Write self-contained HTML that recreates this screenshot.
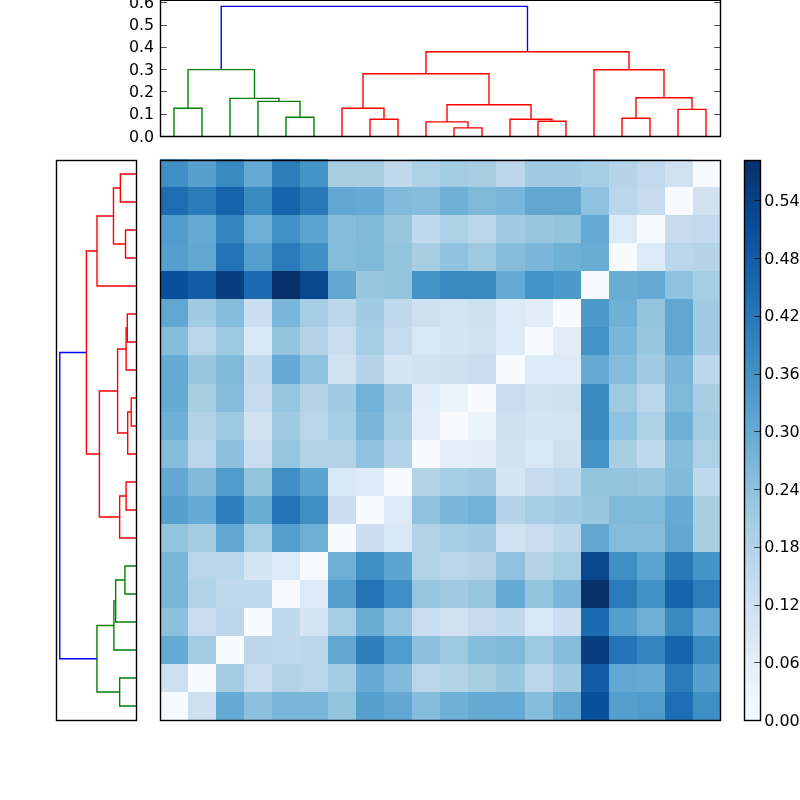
<!DOCTYPE html>
<html lang="en"><head><meta charset="utf-8"><title>Clustered distance matrix</title>
<style>html,body{margin:0;padding:0;background:#fff}body{width:800px;height:800px;overflow:hidden}svg{display:block}text{font-family:"DejaVu Sans","Liberation Sans",sans-serif;font-size:16.67px;fill:#000}</style>
</head><body>
<svg width="800" height="800" viewBox="0 0 800 800">
<rect x="0" y="0" width="800" height="800" fill="#fff"/>
<g shape-rendering="crispEdges">
<rect x="160" y="692" width="28" height="28" fill="#f7fbff"/>
<rect x="188" y="692" width="28" height="28" fill="#cde0f1"/>
<rect x="216" y="692" width="28" height="28" fill="#65aad4"/>
<rect x="244" y="692" width="28" height="28" fill="#8cc0dd"/>
<rect x="272" y="692" width="28" height="28" fill="#7ab6d9"/>
<rect x="300" y="692" width="28" height="28" fill="#7ab6d9"/>
<rect x="328" y="692" width="28" height="28" fill="#92c4de"/>
<rect x="356" y="692" width="28" height="28" fill="#57a0ce"/>
<rect x="384" y="692" width="28" height="28" fill="#63a8d3"/>
<rect x="412" y="692" width="28" height="28" fill="#87bddc"/>
<rect x="440" y="692" width="28" height="28" fill="#6fb0d7"/>
<rect x="468" y="692" width="28" height="28" fill="#66abd4"/>
<rect x="496" y="692" width="29" height="28" fill="#65aad4"/>
<rect x="525" y="692" width="28" height="28" fill="#87bddc"/>
<rect x="553" y="692" width="28" height="28" fill="#61a7d2"/>
<rect x="581" y="692" width="28" height="28" fill="#08509b"/>
<rect x="609" y="692" width="28" height="28" fill="#549fcd"/>
<rect x="637" y="692" width="28" height="28" fill="#4f9bcb"/>
<rect x="665" y="692" width="28" height="28" fill="#1e6db2"/>
<rect x="693" y="692" width="28" height="28" fill="#3f8fc5"/>
<rect x="160" y="664" width="28" height="28" fill="#cde0f1"/>
<rect x="188" y="664" width="28" height="28" fill="#f7fbff"/>
<rect x="216" y="664" width="28" height="28" fill="#a3cce3"/>
<rect x="244" y="664" width="28" height="28" fill="#c8dcf0"/>
<rect x="272" y="664" width="28" height="28" fill="#b2d2e8"/>
<rect x="300" y="664" width="28" height="28" fill="#b8d5ea"/>
<rect x="328" y="664" width="28" height="28" fill="#a3cce3"/>
<rect x="356" y="664" width="28" height="28" fill="#65aad4"/>
<rect x="384" y="664" width="28" height="28" fill="#81badb"/>
<rect x="412" y="664" width="28" height="28" fill="#b8d5ea"/>
<rect x="440" y="664" width="28" height="28" fill="#b2d2e8"/>
<rect x="468" y="664" width="28" height="28" fill="#a8cee4"/>
<rect x="496" y="664" width="29" height="28" fill="#99c7e0"/>
<rect x="525" y="664" width="28" height="28" fill="#bad6eb"/>
<rect x="553" y="664" width="28" height="28" fill="#a0cbe2"/>
<rect x="581" y="664" width="28" height="28" fill="#125da6"/>
<rect x="609" y="664" width="28" height="28" fill="#63a8d3"/>
<rect x="637" y="664" width="28" height="28" fill="#65aad4"/>
<rect x="665" y="664" width="28" height="28" fill="#2b7bba"/>
<rect x="693" y="664" width="28" height="28" fill="#57a0ce"/>
<rect x="160" y="636" width="28" height="28" fill="#65aad4"/>
<rect x="188" y="636" width="28" height="28" fill="#a3cce3"/>
<rect x="216" y="636" width="28" height="28" fill="#f7fbff"/>
<rect x="244" y="636" width="28" height="28" fill="#bcd7eb"/>
<rect x="272" y="636" width="28" height="28" fill="#c1d9ed"/>
<rect x="300" y="636" width="28" height="28" fill="#bad6eb"/>
<rect x="328" y="636" width="28" height="28" fill="#61a7d2"/>
<rect x="356" y="636" width="28" height="28" fill="#2f7fbc"/>
<rect x="384" y="636" width="28" height="28" fill="#4f9bcb"/>
<rect x="412" y="636" width="28" height="28" fill="#8cc0dd"/>
<rect x="440" y="636" width="28" height="28" fill="#9dcae1"/>
<rect x="468" y="636" width="28" height="28" fill="#87bddc"/>
<rect x="496" y="636" width="29" height="28" fill="#7fb9da"/>
<rect x="525" y="636" width="28" height="28" fill="#9dcae1"/>
<rect x="553" y="636" width="28" height="28" fill="#84bcdb"/>
<rect x="581" y="636" width="28" height="28" fill="#083d7f"/>
<rect x="609" y="636" width="28" height="28" fill="#2373b6"/>
<rect x="637" y="636" width="28" height="28" fill="#3484bf"/>
<rect x="665" y="636" width="28" height="28" fill="#1764ab"/>
<rect x="693" y="636" width="28" height="28" fill="#3a8ac2"/>
<rect x="160" y="608" width="28" height="28" fill="#8cc0dd"/>
<rect x="188" y="608" width="28" height="28" fill="#c8dcf0"/>
<rect x="216" y="608" width="28" height="28" fill="#bcd7eb"/>
<rect x="244" y="608" width="28" height="28" fill="#f7fbff"/>
<rect x="272" y="608" width="28" height="28" fill="#c1d9ed"/>
<rect x="300" y="608" width="28" height="28" fill="#d5e5f4"/>
<rect x="328" y="608" width="28" height="28" fill="#a5cde3"/>
<rect x="356" y="608" width="28" height="28" fill="#69add5"/>
<rect x="384" y="608" width="28" height="28" fill="#92c4de"/>
<rect x="412" y="608" width="28" height="28" fill="#c8dcf0"/>
<rect x="440" y="608" width="28" height="28" fill="#d0e1f2"/>
<rect x="468" y="608" width="28" height="28" fill="#c7dbef"/>
<rect x="496" y="608" width="29" height="28" fill="#c1d9ed"/>
<rect x="525" y="608" width="28" height="28" fill="#d8e7f5"/>
<rect x="553" y="608" width="28" height="28" fill="#cbdef1"/>
<rect x="581" y="608" width="28" height="28" fill="#1c6ab0"/>
<rect x="609" y="608" width="28" height="28" fill="#549fcd"/>
<rect x="637" y="608" width="28" height="28" fill="#6caed6"/>
<rect x="665" y="608" width="28" height="28" fill="#3a8ac2"/>
<rect x="693" y="608" width="28" height="28" fill="#65aad4"/>
<rect x="160" y="580" width="28" height="28" fill="#7ab6d9"/>
<rect x="188" y="580" width="28" height="28" fill="#b2d2e8"/>
<rect x="216" y="580" width="28" height="28" fill="#c1d9ed"/>
<rect x="244" y="580" width="28" height="28" fill="#c1d9ed"/>
<rect x="272" y="580" width="28" height="28" fill="#f7fbff"/>
<rect x="300" y="580" width="28" height="28" fill="#ddeaf7"/>
<rect x="328" y="580" width="28" height="28" fill="#549fcd"/>
<rect x="356" y="580" width="28" height="28" fill="#2373b6"/>
<rect x="384" y="580" width="28" height="28" fill="#3f8fc5"/>
<rect x="412" y="580" width="28" height="28" fill="#95c5df"/>
<rect x="440" y="580" width="28" height="28" fill="#9fcae1"/>
<rect x="468" y="580" width="28" height="28" fill="#95c5df"/>
<rect x="496" y="580" width="29" height="28" fill="#65aad4"/>
<rect x="525" y="580" width="28" height="28" fill="#92c4de"/>
<rect x="553" y="580" width="28" height="28" fill="#7ab6d9"/>
<rect x="581" y="580" width="28" height="28" fill="#08306b"/>
<rect x="609" y="580" width="28" height="28" fill="#2b7bba"/>
<rect x="637" y="580" width="28" height="28" fill="#4191c6"/>
<rect x="665" y="580" width="28" height="28" fill="#1764ab"/>
<rect x="693" y="580" width="28" height="28" fill="#2d7dbb"/>
<rect x="160" y="552" width="28" height="28" fill="#7ab6d9"/>
<rect x="188" y="552" width="28" height="28" fill="#b8d5ea"/>
<rect x="216" y="552" width="28" height="28" fill="#bad6eb"/>
<rect x="244" y="552" width="28" height="28" fill="#d5e5f4"/>
<rect x="272" y="552" width="28" height="28" fill="#ddeaf7"/>
<rect x="300" y="552" width="28" height="28" fill="#f7fbff"/>
<rect x="328" y="552" width="28" height="28" fill="#6dafd7"/>
<rect x="356" y="552" width="28" height="28" fill="#3f8fc5"/>
<rect x="384" y="552" width="28" height="28" fill="#5da5d1"/>
<rect x="412" y="552" width="28" height="28" fill="#b2d2e8"/>
<rect x="440" y="552" width="28" height="28" fill="#b8d5ea"/>
<rect x="468" y="552" width="28" height="28" fill="#b4d3e9"/>
<rect x="496" y="552" width="29" height="28" fill="#8fc2de"/>
<rect x="525" y="552" width="28" height="28" fill="#b4d3e9"/>
<rect x="553" y="552" width="28" height="28" fill="#a5cde3"/>
<rect x="581" y="552" width="28" height="28" fill="#08478d"/>
<rect x="609" y="552" width="28" height="28" fill="#3f8fc5"/>
<rect x="637" y="552" width="28" height="28" fill="#5ba3d0"/>
<rect x="665" y="552" width="28" height="28" fill="#2979b9"/>
<rect x="693" y="552" width="28" height="28" fill="#4695c8"/>
<rect x="160" y="524" width="28" height="28" fill="#92c4de"/>
<rect x="188" y="524" width="28" height="28" fill="#a3cce3"/>
<rect x="216" y="524" width="28" height="28" fill="#61a7d2"/>
<rect x="244" y="524" width="28" height="28" fill="#a5cde3"/>
<rect x="272" y="524" width="28" height="28" fill="#549fcd"/>
<rect x="300" y="524" width="28" height="28" fill="#6dafd7"/>
<rect x="328" y="524" width="28" height="28" fill="#f7fbff"/>
<rect x="356" y="524" width="28" height="28" fill="#cbdef1"/>
<rect x="384" y="524" width="28" height="28" fill="#d9e8f5"/>
<rect x="412" y="524" width="28" height="28" fill="#b2d2e8"/>
<rect x="440" y="524" width="28" height="28" fill="#a5cde3"/>
<rect x="468" y="524" width="28" height="28" fill="#9fcae1"/>
<rect x="496" y="524" width="29" height="28" fill="#d0e1f2"/>
<rect x="525" y="524" width="28" height="28" fill="#c8dcf0"/>
<rect x="553" y="524" width="28" height="28" fill="#bcd7eb"/>
<rect x="581" y="524" width="28" height="28" fill="#63a8d3"/>
<rect x="609" y="524" width="28" height="28" fill="#84bcdb"/>
<rect x="637" y="524" width="28" height="28" fill="#87bddc"/>
<rect x="665" y="524" width="28" height="28" fill="#63a8d3"/>
<rect x="693" y="524" width="28" height="28" fill="#a8cee4"/>
<rect x="160" y="496" width="28" height="28" fill="#57a0ce"/>
<rect x="188" y="496" width="28" height="28" fill="#65aad4"/>
<rect x="216" y="496" width="28" height="28" fill="#2f7fbc"/>
<rect x="244" y="496" width="28" height="28" fill="#69add5"/>
<rect x="272" y="496" width="28" height="28" fill="#2373b6"/>
<rect x="300" y="496" width="28" height="28" fill="#3f8fc5"/>
<rect x="328" y="496" width="28" height="28" fill="#cbdef1"/>
<rect x="356" y="496" width="28" height="28" fill="#f7fbff"/>
<rect x="384" y="496" width="28" height="28" fill="#ddeaf7"/>
<rect x="412" y="496" width="28" height="28" fill="#8fc2de"/>
<rect x="440" y="496" width="28" height="28" fill="#7ab6d9"/>
<rect x="468" y="496" width="28" height="28" fill="#71b1d7"/>
<rect x="496" y="496" width="29" height="28" fill="#b5d4e9"/>
<rect x="525" y="496" width="28" height="28" fill="#a5cde3"/>
<rect x="553" y="496" width="28" height="28" fill="#a1cbe2"/>
<rect x="581" y="496" width="28" height="28" fill="#99c7e0"/>
<rect x="609" y="496" width="28" height="28" fill="#7fb9da"/>
<rect x="637" y="496" width="28" height="28" fill="#7fb9da"/>
<rect x="665" y="496" width="28" height="28" fill="#65aad4"/>
<rect x="693" y="496" width="28" height="28" fill="#a8cee4"/>
<rect x="160" y="468" width="28" height="28" fill="#63a8d3"/>
<rect x="188" y="468" width="28" height="28" fill="#81badb"/>
<rect x="216" y="468" width="28" height="28" fill="#4f9bcb"/>
<rect x="244" y="468" width="28" height="28" fill="#92c4de"/>
<rect x="272" y="468" width="28" height="28" fill="#3f8fc5"/>
<rect x="300" y="468" width="28" height="28" fill="#5da5d1"/>
<rect x="328" y="468" width="28" height="28" fill="#d9e8f5"/>
<rect x="356" y="468" width="28" height="28" fill="#ddeaf7"/>
<rect x="384" y="468" width="28" height="28" fill="#f7fbff"/>
<rect x="412" y="468" width="28" height="28" fill="#b2d2e8"/>
<rect x="440" y="468" width="28" height="28" fill="#a5cde3"/>
<rect x="468" y="468" width="28" height="28" fill="#9fcae1"/>
<rect x="496" y="468" width="29" height="28" fill="#d5e5f4"/>
<rect x="525" y="468" width="28" height="28" fill="#c7dbef"/>
<rect x="553" y="468" width="28" height="28" fill="#c1d9ed"/>
<rect x="581" y="468" width="28" height="28" fill="#92c4de"/>
<rect x="609" y="468" width="28" height="28" fill="#92c4de"/>
<rect x="637" y="468" width="28" height="28" fill="#99c7e0"/>
<rect x="665" y="468" width="28" height="28" fill="#81badb"/>
<rect x="693" y="468" width="28" height="28" fill="#c1d9ed"/>
<rect x="160" y="440" width="28" height="28" fill="#87bddc"/>
<rect x="188" y="440" width="28" height="28" fill="#b8d5ea"/>
<rect x="216" y="440" width="28" height="28" fill="#8cc0dd"/>
<rect x="244" y="440" width="28" height="28" fill="#c8dcf0"/>
<rect x="272" y="440" width="28" height="28" fill="#95c5df"/>
<rect x="300" y="440" width="28" height="28" fill="#b2d2e8"/>
<rect x="328" y="440" width="28" height="28" fill="#b2d2e8"/>
<rect x="356" y="440" width="28" height="28" fill="#8fc2de"/>
<rect x="384" y="440" width="28" height="28" fill="#b2d2e8"/>
<rect x="412" y="440" width="28" height="28" fill="#f7fbff"/>
<rect x="440" y="440" width="28" height="28" fill="#e3eef8"/>
<rect x="468" y="440" width="28" height="28" fill="#e1edf8"/>
<rect x="496" y="440" width="29" height="28" fill="#d0e1f2"/>
<rect x="525" y="440" width="28" height="28" fill="#d8e7f5"/>
<rect x="553" y="440" width="28" height="28" fill="#cde0f1"/>
<rect x="581" y="440" width="28" height="28" fill="#4493c7"/>
<rect x="609" y="440" width="28" height="28" fill="#a8cee4"/>
<rect x="637" y="440" width="28" height="28" fill="#c1d9ed"/>
<rect x="665" y="440" width="28" height="28" fill="#87bddc"/>
<rect x="693" y="440" width="28" height="28" fill="#aed1e7"/>
<rect x="160" y="412" width="28" height="28" fill="#6fb0d7"/>
<rect x="188" y="412" width="28" height="28" fill="#b2d2e8"/>
<rect x="216" y="412" width="28" height="28" fill="#9dcae1"/>
<rect x="244" y="412" width="28" height="28" fill="#d0e1f2"/>
<rect x="272" y="412" width="28" height="28" fill="#9fcae1"/>
<rect x="300" y="412" width="28" height="28" fill="#b8d5ea"/>
<rect x="328" y="412" width="28" height="28" fill="#a5cde3"/>
<rect x="356" y="412" width="28" height="28" fill="#7ab6d9"/>
<rect x="384" y="412" width="28" height="28" fill="#a5cde3"/>
<rect x="412" y="412" width="28" height="28" fill="#e3eef8"/>
<rect x="440" y="412" width="28" height="28" fill="#f7fbff"/>
<rect x="468" y="412" width="28" height="28" fill="#ecf4fb"/>
<rect x="496" y="412" width="29" height="28" fill="#cde0f1"/>
<rect x="525" y="412" width="28" height="28" fill="#d3e4f3"/>
<rect x="553" y="412" width="28" height="28" fill="#d2e3f3"/>
<rect x="581" y="412" width="28" height="28" fill="#3a8ac2"/>
<rect x="609" y="412" width="28" height="28" fill="#8fc2de"/>
<rect x="637" y="412" width="28" height="28" fill="#aed1e7"/>
<rect x="665" y="412" width="28" height="28" fill="#6fb0d7"/>
<rect x="693" y="412" width="28" height="28" fill="#a3cce3"/>
<rect x="160" y="384" width="28" height="28" fill="#66abd4"/>
<rect x="188" y="384" width="28" height="28" fill="#a8cee4"/>
<rect x="216" y="384" width="28" height="28" fill="#87bddc"/>
<rect x="244" y="384" width="28" height="28" fill="#c7dbef"/>
<rect x="272" y="384" width="28" height="28" fill="#95c5df"/>
<rect x="300" y="384" width="28" height="28" fill="#b4d3e9"/>
<rect x="328" y="384" width="28" height="28" fill="#9fcae1"/>
<rect x="356" y="384" width="28" height="28" fill="#71b1d7"/>
<rect x="384" y="384" width="28" height="28" fill="#9fcae1"/>
<rect x="412" y="384" width="28" height="28" fill="#e1edf8"/>
<rect x="440" y="384" width="28" height="28" fill="#ecf4fb"/>
<rect x="468" y="384" width="28" height="28" fill="#f7fbff"/>
<rect x="496" y="384" width="29" height="28" fill="#c8dcf0"/>
<rect x="525" y="384" width="28" height="28" fill="#d0e1f2"/>
<rect x="553" y="384" width="28" height="28" fill="#cde0f1"/>
<rect x="581" y="384" width="28" height="28" fill="#3a8ac2"/>
<rect x="609" y="384" width="28" height="28" fill="#9dcae1"/>
<rect x="637" y="384" width="28" height="28" fill="#bad6eb"/>
<rect x="665" y="384" width="28" height="28" fill="#7fb9da"/>
<rect x="693" y="384" width="28" height="28" fill="#a8cee4"/>
<rect x="160" y="355" width="28" height="29" fill="#65aad4"/>
<rect x="188" y="355" width="28" height="29" fill="#99c7e0"/>
<rect x="216" y="355" width="28" height="29" fill="#7fb9da"/>
<rect x="244" y="355" width="28" height="29" fill="#c1d9ed"/>
<rect x="272" y="355" width="28" height="29" fill="#65aad4"/>
<rect x="300" y="355" width="28" height="29" fill="#8fc2de"/>
<rect x="328" y="355" width="28" height="29" fill="#d0e1f2"/>
<rect x="356" y="355" width="28" height="29" fill="#b5d4e9"/>
<rect x="384" y="355" width="28" height="29" fill="#d5e5f4"/>
<rect x="412" y="355" width="28" height="29" fill="#d0e1f2"/>
<rect x="440" y="355" width="28" height="29" fill="#cde0f1"/>
<rect x="468" y="355" width="28" height="29" fill="#c8dcf0"/>
<rect x="496" y="355" width="29" height="29" fill="#f7fbff"/>
<rect x="525" y="355" width="28" height="29" fill="#ddeaf7"/>
<rect x="553" y="355" width="28" height="29" fill="#ddeaf7"/>
<rect x="581" y="355" width="28" height="29" fill="#65aad4"/>
<rect x="609" y="355" width="28" height="29" fill="#85bcdc"/>
<rect x="637" y="355" width="28" height="29" fill="#a0cbe2"/>
<rect x="665" y="355" width="28" height="29" fill="#7ab6d9"/>
<rect x="693" y="355" width="28" height="29" fill="#bcd7eb"/>
<rect x="160" y="327" width="28" height="28" fill="#87bddc"/>
<rect x="188" y="327" width="28" height="28" fill="#bad6eb"/>
<rect x="216" y="327" width="28" height="28" fill="#9dcae1"/>
<rect x="244" y="327" width="28" height="28" fill="#d8e7f5"/>
<rect x="272" y="327" width="28" height="28" fill="#92c4de"/>
<rect x="300" y="327" width="28" height="28" fill="#b4d3e9"/>
<rect x="328" y="327" width="28" height="28" fill="#c8dcf0"/>
<rect x="356" y="327" width="28" height="28" fill="#a5cde3"/>
<rect x="384" y="327" width="28" height="28" fill="#c7dbef"/>
<rect x="412" y="327" width="28" height="28" fill="#d8e7f5"/>
<rect x="440" y="327" width="28" height="28" fill="#d3e4f3"/>
<rect x="468" y="327" width="28" height="28" fill="#d0e1f2"/>
<rect x="496" y="327" width="29" height="28" fill="#ddeaf7"/>
<rect x="525" y="327" width="28" height="28" fill="#f7fbff"/>
<rect x="553" y="327" width="28" height="28" fill="#e2edf8"/>
<rect x="581" y="327" width="28" height="28" fill="#4493c7"/>
<rect x="609" y="327" width="28" height="28" fill="#7ab6d9"/>
<rect x="637" y="327" width="28" height="28" fill="#97c6df"/>
<rect x="665" y="327" width="28" height="28" fill="#61a7d2"/>
<rect x="693" y="327" width="28" height="28" fill="#a0cbe2"/>
<rect x="160" y="299" width="28" height="28" fill="#61a7d2"/>
<rect x="188" y="299" width="28" height="28" fill="#a0cbe2"/>
<rect x="216" y="299" width="28" height="28" fill="#84bcdb"/>
<rect x="244" y="299" width="28" height="28" fill="#cbdef1"/>
<rect x="272" y="299" width="28" height="28" fill="#7ab6d9"/>
<rect x="300" y="299" width="28" height="28" fill="#a5cde3"/>
<rect x="328" y="299" width="28" height="28" fill="#bcd7eb"/>
<rect x="356" y="299" width="28" height="28" fill="#a1cbe2"/>
<rect x="384" y="299" width="28" height="28" fill="#c1d9ed"/>
<rect x="412" y="299" width="28" height="28" fill="#cde0f1"/>
<rect x="440" y="299" width="28" height="28" fill="#d2e3f3"/>
<rect x="468" y="299" width="28" height="28" fill="#cde0f1"/>
<rect x="496" y="299" width="29" height="28" fill="#ddeaf7"/>
<rect x="525" y="299" width="28" height="28" fill="#e2edf8"/>
<rect x="553" y="299" width="28" height="28" fill="#f7fbff"/>
<rect x="581" y="299" width="28" height="28" fill="#4d99ca"/>
<rect x="609" y="299" width="28" height="28" fill="#6fb0d7"/>
<rect x="637" y="299" width="28" height="28" fill="#92c4de"/>
<rect x="665" y="299" width="28" height="28" fill="#61a7d2"/>
<rect x="693" y="299" width="28" height="28" fill="#a0cbe2"/>
<rect x="160" y="271" width="28" height="28" fill="#08509b"/>
<rect x="188" y="271" width="28" height="28" fill="#125da6"/>
<rect x="216" y="271" width="28" height="28" fill="#083d7f"/>
<rect x="244" y="271" width="28" height="28" fill="#1c6ab0"/>
<rect x="272" y="271" width="28" height="28" fill="#08306b"/>
<rect x="300" y="271" width="28" height="28" fill="#08478d"/>
<rect x="328" y="271" width="28" height="28" fill="#63a8d3"/>
<rect x="356" y="271" width="28" height="28" fill="#99c7e0"/>
<rect x="384" y="271" width="28" height="28" fill="#92c4de"/>
<rect x="412" y="271" width="28" height="28" fill="#4493c7"/>
<rect x="440" y="271" width="28" height="28" fill="#3a8ac2"/>
<rect x="468" y="271" width="28" height="28" fill="#3a8ac2"/>
<rect x="496" y="271" width="29" height="28" fill="#65aad4"/>
<rect x="525" y="271" width="28" height="28" fill="#4493c7"/>
<rect x="553" y="271" width="28" height="28" fill="#4d99ca"/>
<rect x="581" y="271" width="28" height="28" fill="#f7fbff"/>
<rect x="609" y="271" width="28" height="28" fill="#69add5"/>
<rect x="637" y="271" width="28" height="28" fill="#65aad4"/>
<rect x="665" y="271" width="28" height="28" fill="#8fc2de"/>
<rect x="693" y="271" width="28" height="28" fill="#a5cde3"/>
<rect x="160" y="243" width="28" height="28" fill="#549fcd"/>
<rect x="188" y="243" width="28" height="28" fill="#63a8d3"/>
<rect x="216" y="243" width="28" height="28" fill="#2373b6"/>
<rect x="244" y="243" width="28" height="28" fill="#549fcd"/>
<rect x="272" y="243" width="28" height="28" fill="#2b7bba"/>
<rect x="300" y="243" width="28" height="28" fill="#3f8fc5"/>
<rect x="328" y="243" width="28" height="28" fill="#84bcdb"/>
<rect x="356" y="243" width="28" height="28" fill="#7fb9da"/>
<rect x="384" y="243" width="28" height="28" fill="#92c4de"/>
<rect x="412" y="243" width="28" height="28" fill="#a8cee4"/>
<rect x="440" y="243" width="28" height="28" fill="#8fc2de"/>
<rect x="468" y="243" width="28" height="28" fill="#9dcae1"/>
<rect x="496" y="243" width="29" height="28" fill="#85bcdc"/>
<rect x="525" y="243" width="28" height="28" fill="#7ab6d9"/>
<rect x="553" y="243" width="28" height="28" fill="#6fb0d7"/>
<rect x="581" y="243" width="28" height="28" fill="#69add5"/>
<rect x="609" y="243" width="28" height="28" fill="#f7fbff"/>
<rect x="637" y="243" width="28" height="28" fill="#dce9f6"/>
<rect x="665" y="243" width="28" height="28" fill="#bad6eb"/>
<rect x="693" y="243" width="28" height="28" fill="#b5d4e9"/>
<rect x="160" y="215" width="28" height="28" fill="#4f9bcb"/>
<rect x="188" y="215" width="28" height="28" fill="#65aad4"/>
<rect x="216" y="215" width="28" height="28" fill="#3484bf"/>
<rect x="244" y="215" width="28" height="28" fill="#6caed6"/>
<rect x="272" y="215" width="28" height="28" fill="#4191c6"/>
<rect x="300" y="215" width="28" height="28" fill="#5ba3d0"/>
<rect x="328" y="215" width="28" height="28" fill="#87bddc"/>
<rect x="356" y="215" width="28" height="28" fill="#7fb9da"/>
<rect x="384" y="215" width="28" height="28" fill="#99c7e0"/>
<rect x="412" y="215" width="28" height="28" fill="#c1d9ed"/>
<rect x="440" y="215" width="28" height="28" fill="#aed1e7"/>
<rect x="468" y="215" width="28" height="28" fill="#bad6eb"/>
<rect x="496" y="215" width="29" height="28" fill="#a0cbe2"/>
<rect x="525" y="215" width="28" height="28" fill="#97c6df"/>
<rect x="553" y="215" width="28" height="28" fill="#92c4de"/>
<rect x="581" y="215" width="28" height="28" fill="#65aad4"/>
<rect x="609" y="215" width="28" height="28" fill="#dce9f6"/>
<rect x="637" y="215" width="28" height="28" fill="#f7fbff"/>
<rect x="665" y="215" width="28" height="28" fill="#c7dbef"/>
<rect x="693" y="215" width="28" height="28" fill="#c3daee"/>
<rect x="160" y="187" width="28" height="28" fill="#1e6db2"/>
<rect x="188" y="187" width="28" height="28" fill="#2b7bba"/>
<rect x="216" y="187" width="28" height="28" fill="#1764ab"/>
<rect x="244" y="187" width="28" height="28" fill="#3a8ac2"/>
<rect x="272" y="187" width="28" height="28" fill="#1764ab"/>
<rect x="300" y="187" width="28" height="28" fill="#2979b9"/>
<rect x="328" y="187" width="28" height="28" fill="#63a8d3"/>
<rect x="356" y="187" width="28" height="28" fill="#65aad4"/>
<rect x="384" y="187" width="28" height="28" fill="#81badb"/>
<rect x="412" y="187" width="28" height="28" fill="#87bddc"/>
<rect x="440" y="187" width="28" height="28" fill="#6fb0d7"/>
<rect x="468" y="187" width="28" height="28" fill="#7fb9da"/>
<rect x="496" y="187" width="29" height="28" fill="#7ab6d9"/>
<rect x="525" y="187" width="28" height="28" fill="#61a7d2"/>
<rect x="553" y="187" width="28" height="28" fill="#61a7d2"/>
<rect x="581" y="187" width="28" height="28" fill="#8fc2de"/>
<rect x="609" y="187" width="28" height="28" fill="#bad6eb"/>
<rect x="637" y="187" width="28" height="28" fill="#c7dbef"/>
<rect x="665" y="187" width="28" height="28" fill="#f7fbff"/>
<rect x="693" y="187" width="28" height="28" fill="#d0e1f2"/>
<rect x="160" y="159" width="28" height="28" fill="#3f8fc5"/>
<rect x="188" y="159" width="28" height="28" fill="#57a0ce"/>
<rect x="216" y="159" width="28" height="28" fill="#3a8ac2"/>
<rect x="244" y="159" width="28" height="28" fill="#65aad4"/>
<rect x="272" y="159" width="28" height="28" fill="#2d7dbb"/>
<rect x="300" y="159" width="28" height="28" fill="#4695c8"/>
<rect x="328" y="159" width="28" height="28" fill="#a8cee4"/>
<rect x="356" y="159" width="28" height="28" fill="#a8cee4"/>
<rect x="384" y="159" width="28" height="28" fill="#c1d9ed"/>
<rect x="412" y="159" width="28" height="28" fill="#aed1e7"/>
<rect x="440" y="159" width="28" height="28" fill="#a3cce3"/>
<rect x="468" y="159" width="28" height="28" fill="#a8cee4"/>
<rect x="496" y="159" width="29" height="28" fill="#bcd7eb"/>
<rect x="525" y="159" width="28" height="28" fill="#a0cbe2"/>
<rect x="553" y="159" width="28" height="28" fill="#a0cbe2"/>
<rect x="581" y="159" width="28" height="28" fill="#a5cde3"/>
<rect x="609" y="159" width="28" height="28" fill="#b5d4e9"/>
<rect x="637" y="159" width="28" height="28" fill="#c3daee"/>
<rect x="665" y="159" width="28" height="28" fill="#d0e1f2"/>
<rect x="693" y="159" width="28" height="28" fill="#f7fbff"/>
</g>
<rect x="160.5" y="160.5" width="560" height="560" fill="none" stroke="#000" stroke-width="1.4"/>
<defs><linearGradient id="cb" x1="0" y1="1" x2="0" y2="0">
<stop offset="0.0000" stop-color="#f7fbff"/>
<stop offset="0.1250" stop-color="#deebf7"/>
<stop offset="0.2500" stop-color="#c6dbef"/>
<stop offset="0.3750" stop-color="#9dcae1"/>
<stop offset="0.5000" stop-color="#6aaed6"/>
<stop offset="0.6250" stop-color="#4191c6"/>
<stop offset="0.7500" stop-color="#2070b4"/>
<stop offset="0.8750" stop-color="#08509b"/>
<stop offset="1.0000" stop-color="#08306b"/>
</linearGradient></defs>
<rect x="744.5" y="160.5" width="16" height="560" fill="url(#cb)" stroke="#000" stroke-width="1.4"/>
<line x1="754.2" y1="720.5" x2="760.5" y2="720.5" stroke="#000" stroke-width="0.7"/>
<text x="764.2" y="726.0" textLength="35.5" lengthAdjust="spacingAndGlyphs">0.00</text>
<line x1="754.2" y1="662.5" x2="760.5" y2="662.5" stroke="#000" stroke-width="0.7"/>
<text x="764.2" y="668.0" textLength="35.5" lengthAdjust="spacingAndGlyphs">0.06</text>
<line x1="754.2" y1="605.5" x2="760.5" y2="605.5" stroke="#000" stroke-width="0.7"/>
<text x="764.2" y="610.0" textLength="35.5" lengthAdjust="spacingAndGlyphs">0.12</text>
<line x1="754.2" y1="547.5" x2="760.5" y2="547.5" stroke="#000" stroke-width="0.7"/>
<text x="764.2" y="552.0" textLength="35.5" lengthAdjust="spacingAndGlyphs">0.18</text>
<line x1="754.2" y1="489.5" x2="760.5" y2="489.5" stroke="#000" stroke-width="0.7"/>
<text x="764.2" y="495.0" textLength="35.5" lengthAdjust="spacingAndGlyphs">0.24</text>
<line x1="754.2" y1="431.5" x2="760.5" y2="431.5" stroke="#000" stroke-width="0.7"/>
<text x="764.2" y="437.0" textLength="35.5" lengthAdjust="spacingAndGlyphs">0.30</text>
<line x1="754.2" y1="374.5" x2="760.5" y2="374.5" stroke="#000" stroke-width="0.7"/>
<text x="764.2" y="379.0" textLength="35.5" lengthAdjust="spacingAndGlyphs">0.36</text>
<line x1="754.2" y1="316.5" x2="760.5" y2="316.5" stroke="#000" stroke-width="0.7"/>
<text x="764.2" y="321.0" textLength="35.5" lengthAdjust="spacingAndGlyphs">0.42</text>
<line x1="754.2" y1="258.5" x2="760.5" y2="258.5" stroke="#000" stroke-width="0.7"/>
<text x="764.2" y="264.0" textLength="35.5" lengthAdjust="spacingAndGlyphs">0.48</text>
<line x1="754.2" y1="200.5" x2="760.5" y2="200.5" stroke="#000" stroke-width="0.7"/>
<text x="764.2" y="206.0" textLength="35.5" lengthAdjust="spacingAndGlyphs">0.54</text>
<g fill="none" stroke-width="1.39" stroke-linejoin="miter">
<path d="M174.00 136.50L174.00 108.20L202.00 108.20L202.00 136.50" stroke="#008000"/>
<path d="M286.00 136.50L286.00 117.20L314.00 117.20L314.00 136.50" stroke="#008000"/>
<path d="M258.00 136.50L258.00 101.40L300.00 101.40L300.00 117.20" stroke="#008000"/>
<path d="M230.00 136.50L230.00 98.40L279.00 98.40L279.00 101.40" stroke="#008000"/>
<path d="M188.00 108.20L188.00 69.60L254.50 69.60L254.50 98.40" stroke="#008000"/>
<path d="M370.00 136.50L370.00 119.20L398.00 119.20L398.00 136.50" stroke="#ff0000"/>
<path d="M342.00 136.50L342.00 108.20L384.00 108.20L384.00 119.20" stroke="#ff0000"/>
<path d="M454.00 136.50L454.00 127.90L482.00 127.90L482.00 136.50" stroke="#ff0000"/>
<path d="M426.00 136.50L426.00 121.90L468.00 121.90L468.00 127.90" stroke="#ff0000"/>
<path d="M538.00 136.50L538.00 121.20L566.00 121.20L566.00 136.50" stroke="#ff0000"/>
<path d="M510.00 136.50L510.00 119.20L552.00 119.20L552.00 121.20" stroke="#ff0000"/>
<path d="M447.00 121.90L447.00 104.70L531.00 104.70L531.00 119.20" stroke="#ff0000"/>
<path d="M363.00 108.20L363.00 73.70L489.00 73.70L489.00 104.70" stroke="#ff0000"/>
<path d="M622.00 136.50L622.00 118.20L650.00 118.20L650.00 136.50" stroke="#ff0000"/>
<path d="M678.00 136.50L678.00 109.40L706.00 109.40L706.00 136.50" stroke="#ff0000"/>
<path d="M636.00 118.20L636.00 97.70L692.00 97.70L692.00 109.40" stroke="#ff0000"/>
<path d="M594.00 136.50L594.00 69.70L664.00 69.70L664.00 97.70" stroke="#ff0000"/>
<path d="M426.00 73.70L426.00 51.70L629.00 51.70L629.00 69.70" stroke="#ff0000"/>
<path d="M221.25 69.60L221.25 6.40L527.50 6.40L527.50 51.70" stroke="#0000ff"/>
</g>
<g stroke="#000" stroke-width="1.4" fill="none">
<path d="M160.5 0.3L160.5 136.5L720.5 136.5L720.5 0.3Z"/>
</g>
<line x1="160.5" y1="136.5" x2="166.8" y2="136.5" stroke="#000" stroke-width="0.7"/>
<line x1="714.2" y1="136.5" x2="720.5" y2="136.5" stroke="#000" stroke-width="0.7"/>
<text x="154.2" y="142.0" text-anchor="end" textLength="25.2" lengthAdjust="spacingAndGlyphs">0.0</text>
<line x1="160.5" y1="114.5" x2="166.8" y2="114.5" stroke="#000" stroke-width="0.7"/>
<line x1="714.2" y1="114.5" x2="720.5" y2="114.5" stroke="#000" stroke-width="0.7"/>
<text x="154.2" y="119.0" text-anchor="end" textLength="25.2" lengthAdjust="spacingAndGlyphs">0.1</text>
<line x1="160.5" y1="91.5" x2="166.8" y2="91.5" stroke="#000" stroke-width="0.7"/>
<line x1="714.2" y1="91.5" x2="720.5" y2="91.5" stroke="#000" stroke-width="0.7"/>
<text x="154.2" y="97.0" text-anchor="end" textLength="25.2" lengthAdjust="spacingAndGlyphs">0.2</text>
<line x1="160.5" y1="69.5" x2="166.8" y2="69.5" stroke="#000" stroke-width="0.7"/>
<line x1="714.2" y1="69.5" x2="720.5" y2="69.5" stroke="#000" stroke-width="0.7"/>
<text x="154.2" y="75.0" text-anchor="end" textLength="25.2" lengthAdjust="spacingAndGlyphs">0.3</text>
<line x1="160.5" y1="47.5" x2="166.8" y2="47.5" stroke="#000" stroke-width="0.7"/>
<line x1="714.2" y1="47.5" x2="720.5" y2="47.5" stroke="#000" stroke-width="0.7"/>
<text x="154.2" y="52.0" text-anchor="end" textLength="25.2" lengthAdjust="spacingAndGlyphs">0.4</text>
<line x1="160.5" y1="25.5" x2="166.8" y2="25.5" stroke="#000" stroke-width="0.7"/>
<line x1="714.2" y1="25.5" x2="720.5" y2="25.5" stroke="#000" stroke-width="0.7"/>
<text x="154.2" y="30.0" text-anchor="end" textLength="25.2" lengthAdjust="spacingAndGlyphs">0.5</text>
<line x1="160.5" y1="2.5" x2="166.8" y2="2.5" stroke="#000" stroke-width="0.7"/>
<line x1="714.2" y1="2.5" x2="720.5" y2="2.5" stroke="#000" stroke-width="0.7"/>
<text x="154.2" y="8.0" text-anchor="end" textLength="25.2" lengthAdjust="spacingAndGlyphs">0.6</text>
<g fill="none" stroke-width="1.39" stroke-linejoin="miter">
<path d="M136.29 706.00L119.65 706.00L119.65 678.00L136.29 678.00" stroke="#008000"/>
<path d="M136.29 594.00L124.94 594.00L124.94 566.00L136.29 566.00" stroke="#008000"/>
<path d="M136.29 622.00L115.65 622.00L115.65 580.00L124.94 580.00" stroke="#008000"/>
<path d="M136.29 650.00L113.88 650.00L113.88 601.00L115.65 601.00" stroke="#008000"/>
<path d="M119.65 692.00L96.94 692.00L96.94 625.50L113.88 625.50" stroke="#008000"/>
<path d="M136.29 510.00L126.12 510.00L126.12 482.00L136.29 482.00" stroke="#ff0000"/>
<path d="M136.29 538.00L119.65 538.00L119.65 496.00L126.12 496.00" stroke="#ff0000"/>
<path d="M136.29 426.00L131.24 426.00L131.24 398.00L136.29 398.00" stroke="#ff0000"/>
<path d="M136.29 454.00L127.71 454.00L127.71 412.00L131.24 412.00" stroke="#ff0000"/>
<path d="M136.29 342.00L127.29 342.00L127.29 314.00L136.29 314.00" stroke="#ff0000"/>
<path d="M136.29 370.00L126.12 370.00L126.12 328.00L127.29 328.00" stroke="#ff0000"/>
<path d="M127.71 433.00L117.59 433.00L117.59 349.00L126.12 349.00" stroke="#ff0000"/>
<path d="M119.65 517.00L99.36 517.00L99.36 391.00L117.59 391.00" stroke="#ff0000"/>
<path d="M136.29 258.00L125.53 258.00L125.53 230.00L136.29 230.00" stroke="#ff0000"/>
<path d="M136.29 202.00L120.35 202.00L120.35 174.00L136.29 174.00" stroke="#ff0000"/>
<path d="M125.53 244.00L113.47 244.00L113.47 188.00L120.35 188.00" stroke="#ff0000"/>
<path d="M136.29 286.00L97.00 286.00L97.00 216.00L113.47 216.00" stroke="#ff0000"/>
<path d="M99.36 454.00L86.41 454.00L86.41 251.00L97.00 251.00" stroke="#ff0000"/>
<path d="M96.94 658.75L59.77 658.75L59.77 352.50L86.41 352.50" stroke="#0000ff"/>
</g>
<rect x="56.5" y="160.5" width="80" height="560" fill="none" stroke="#000" stroke-width="1.4"/>
</svg>
</body></html>
